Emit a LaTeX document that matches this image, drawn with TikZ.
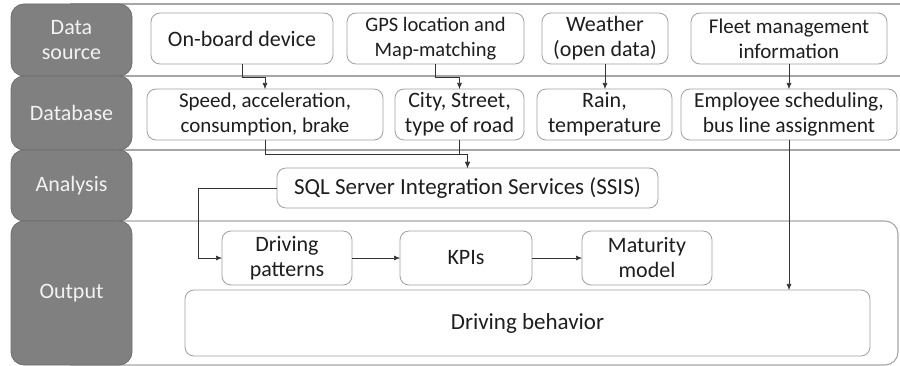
\documentclass[tikz,border=0pt]{standalone}
\usepackage{fontspec}
\setmainfont{Carlito}
\usetikzlibrary{positioning}
\usetikzlibrary{arrows.meta}

\definecolor{headgray}{HTML}{808080}
\definecolor{headline}{HTML}{6E6E6E}
\definecolor{boxline}{HTML}{A0A0A0}
\definecolor{laneline}{HTML}{A6A6A6}
\definecolor{inktext}{HTML}{1E1E1E}
\definecolor{linkgray}{HTML}{333333}

\begin{document}
\begin{tikzpicture}[x=1pt,y=-1pt,>={Latex[length=6pt,width=5pt]},
	font=\fontsize{22}{25}\selectfont,
	fs/.style={font=\fontsize{#1}{25}\selectfont},
	lane/.style={draw=laneline,line width=1.1pt},
	head/.style={draw=headline,fill=headgray,text=white!95!black,rounded corners=13pt,minimum width=121pt,outer sep=0pt,align=center,line width=0.8pt},
	box/.style={draw=boxline,fill=white,text=inktext,rounded corners=9pt,outer sep=0pt,align=center,line width=0.8pt,inner sep=1pt},
	link/.style={->,draw=linkgray,line width=0.6pt}]
	\useasboundingbox (0,0) rectangle (900,366);

	% lanes
	\draw[lane] (70,4) -- (900,4);
	\draw[lane] (70,76) -- (900,76);
	\draw[lane] (70,150) -- (900,150);
	\draw[lane,rounded corners=13pt] (70,221) -- (898,221) -- (898,365) -- (70,365);

	% lane headers
	\node [head,minimum height=72pt] at (71.5,40) (head_src) {Data\\source};
	\node [head,minimum height=74pt] at (71.5,113) (head_db) {Database};
	\node [head,minimum height=71pt] at (71.5,185.5) (head_ana) {Analysis};
	\node [head,minimum height=144pt] at (71.5,293) (head_out) {Output};

	% data sources
	\node [box,minimum width=182pt,minimum height=51pt] at (242,38.5) (src_obd) {On-board device};
	\node [box,fs=20.5,minimum width=177pt,minimum height=51pt] at (435.5,38.5) (src_gps) {GPS location and\\Map-matching};
	\node [box,minimum width=126pt,minimum height=51pt] at (605,38.5) (src_wx) {Weather\\(open data)};
	\node [box,fs=21,minimum width=196pt,minimum height=51pt] at (789,38.5) (src_fleet) {Fleet management\\information};

	% database
	\node [box,fs=21,minimum width=236pt,minimum height=51pt] at (265,114.5) (db_speed) {Speed, acceleration,\\consumption, brake};
	\node [box,minimum width=129pt,minimum height=51pt] at (459.5,114.5) (db_city) {City, Street,\\type of road};
	\node [box,minimum width=135pt,minimum height=51pt] at (604.5,114.5) (db_rain) {Rain,\\temperature};
	\node [box,fs=21.5,minimum width=216pt,minimum height=51pt] at (789,114.5) (db_staff) {Employee scheduling,\\bus line assignment};

	% analysis
	\node [box,fs=23,minimum width=381pt,minimum height=40pt] at (467.5,188) (ssis) {SQL Server Integration Services (SSIS)};

	% output
	\node [box,minimum width=130pt,minimum height=54pt] at (287,258) (out_pat) {Driving\\patterns};
	\node [box,minimum width=132pt,minimum height=54pt] at (466,258) (out_kpi) {KPIs};
	\node [box,minimum width=130pt,minimum height=54pt] at (647,258) (out_mat) {Maturity\\model};
	\node [box,fs=23,minimum width=685pt,minimum height=66pt] at (527.5,323) (out_beh) {Driving behavior};

	% sources -> database
	\draw[link] (src_obd.south) -- ++(0,13) -| (db_speed.north);
	\draw[link] (src_gps.south) -- ++(0,13) -| (db_city.north);
	\draw[link] (src_wx.south) -- (src_wx.south|-db_rain.north);
	\draw[link] (src_fleet.south) -- (src_fleet.south|-db_staff.north);

	% database -> analysis
	\draw[link] (db_speed.south) -- ++(0,14) -| (ssis.north);
	\draw[link] (db_city.south) -- ++(0,14) -| (ssis.north);

	% analysis -> output
	\draw[link] (ssis.west) -- ++(-79,0) |- (out_pat.west);
	\draw[link] (out_pat) -- (out_kpi);
	\draw[link] (out_kpi) -- (out_mat);
	\draw[link] (db_staff.south) -- (db_staff.south|-out_beh.north);
\end{tikzpicture}
\end{document}
